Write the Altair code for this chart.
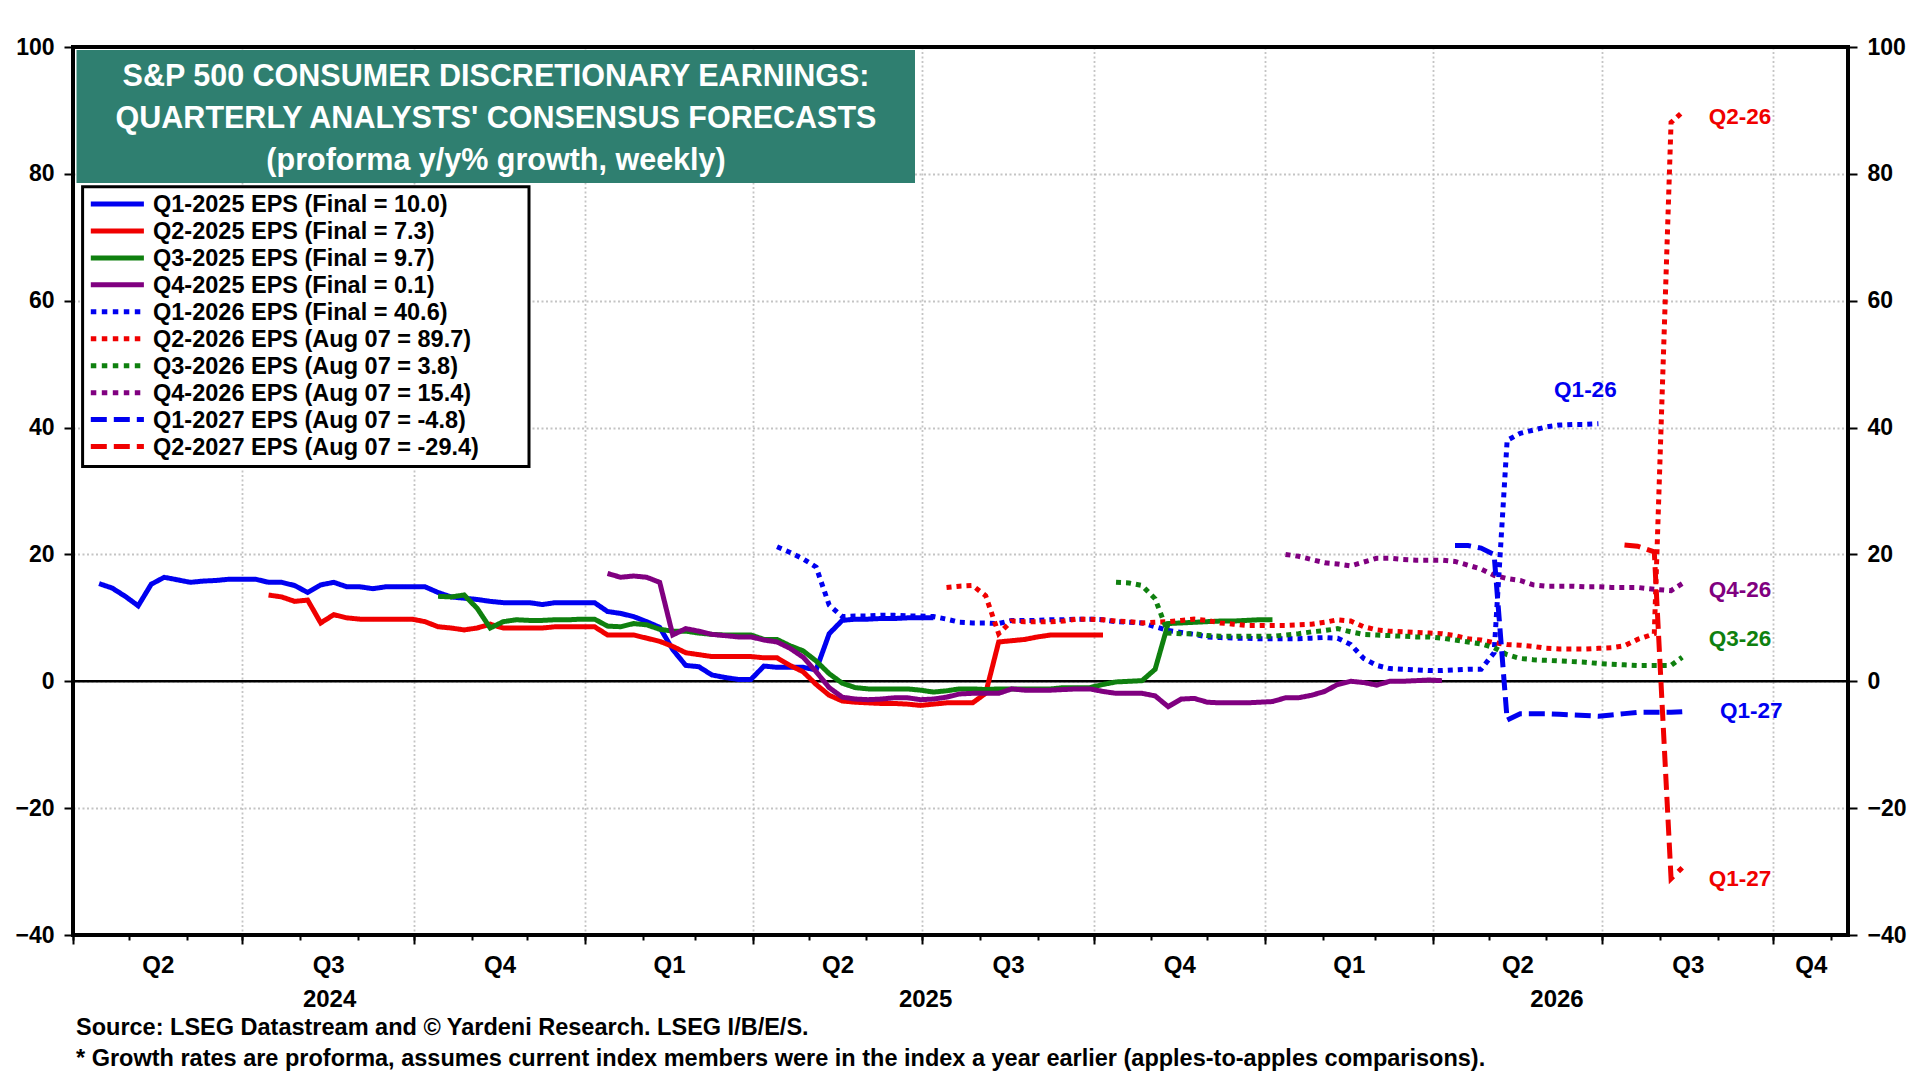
import altair as alt
import pandas as pd

# ---------------- data (weekly observations; last readings dated as drawn) ----------------
WEEK0 = pd.Timestamp("2024-04-08")          # week index k -> WEEK0 + 7k days
LATE_DATES = {120: "2026-07-29", 121: "2026-08-07", 122: "2026-08-13"}
DOMAIN_START = pd.Timestamp("2024-04-01")
DOMAIN_END = pd.Timestamp("2026-11-10")

SERIES = [
    "Q1-2025 EPS (Final = 10.0)",
    "Q2-2025 EPS (Final = 7.3)",
    "Q3-2025 EPS (Final = 9.7)",
    "Q4-2025 EPS (Final = 0.1)",
    "Q1-2026 EPS (Final = 40.6)",
    "Q2-2026 EPS (Aug 07 = 89.7)",
    "Q3-2026 EPS (Aug 07 = 3.8)",
    "Q4-2026 EPS (Aug 07 = 15.4)",
    "Q1-2027 EPS (Aug 07 = -4.8)",
    "Q2-2027 EPS (Aug 07 = -29.4)",
]
COLORS = ["#0000f0", "#f00000", "#0f800f", "#800080",
          "#0000f0", "#f00000", "#0f800f", "#800080",
          "#0000f0", "#f00000"]
DASHES = [[1, 0]] * 4 + [[5, 5]] * 4 + [[16, 7]] * 2
LEGEND_DASHES = [[1, 0]] * 4 + [[5.5, 5.5]] * 4 + [[16, 7]] * 2
START_WEEK = [1, 14, 27, 40, 53, 66, 79, 92, 105, 118]

q1_2025 = [15.4, 14.7, 13.4, 11.9, 15.3, 16.4, 16.0, 15.6, 15.8, 15.9,
           16.1, 16.1, 16.1, 15.6, 15.6, 15.1, 14.0, 15.2, 15.6, 14.9,
           14.9, 14.6, 14.9, 14.9, 14.9, 14.9, 14.0, 13.3, 13.1, 12.9,
           12.6, 12.4, 12.4, 12.4, 12.1, 12.4, 12.4, 12.4, 12.4, 11.0,
           10.7, 10.2, 9.4, 8.5, 5.0, 2.5, 2.3, 1.0, 0.6, 0.3,
           0.3, 2.4, 2.2, 2.2, 2.2, 1.8, 7.5, 9.6, 9.8, 9.8,
           9.9, 9.9, 10.0, 10.0, 10.0]
q2_2025 = [13.6, 13.3, 12.6, 12.8, 9.2, 10.5, 10.0, 9.8, 9.8, 9.8,
           9.8, 9.8, 9.4, 8.6, 8.4, 8.1, 8.4, 9.0, 8.4, 8.4,
           8.4, 8.4, 8.6, 8.6, 8.6, 8.6, 7.3, 7.3, 7.3, 6.8,
           6.3, 5.5, 4.5, 4.2, 3.9, 3.9, 3.9, 3.9, 3.7, 3.7,
           2.5, 1.5, -0.5, -2.2, -3.1, -3.3, -3.4, -3.5, -3.5, -3.6,
           -3.8, -3.6, -3.4, -3.4, -3.4, -1.9, 6.2, 6.4, 6.6, 7.0,
           7.3, 7.3, 7.3, 7.3, 7.3]
q3_2025 = [13.4, 13.3, 13.6, 11.5, 8.4, 9.4, 9.7, 9.6, 9.6, 9.7,
           9.7, 9.8, 9.8, 8.7, 8.6, 9.1, 8.9, 8.2, 7.9, 7.9,
           7.6, 7.4, 7.3, 7.3, 7.3, 6.6, 6.6, 5.6, 4.8, 3.2,
           1.2, -0.3, -1.0, -1.2, -1.2, -1.2, -1.2, -1.4, -1.7, -1.5,
           -1.2, -1.2, -1.3, -1.2, -1.2, -1.2, -1.2, -1.2, -1.0, -1.0,
           -1.0, -0.5, -0.1, 0.0, 0.1, 1.9, 9.1, 9.2, 9.3, 9.4,
           9.5, 9.5, 9.6, 9.7, 9.7]
q4_2025 = [17.0, 16.4, 16.6, 16.4, 15.6, 7.3, 8.3, 7.9, 7.4, 7.2,
           7.0, 7.0, 6.5, 6.2, 5.2, 3.8, 1.5, -1.0, -2.5, -2.8,
           -2.9, -2.8, -2.6, -2.6, -2.9, -2.8, -2.5, -2.0, -1.9, -1.9,
           -1.9, -1.2, -1.4, -1.4, -1.4, -1.3, -1.2, -1.2, -1.6, -1.9,
           -1.9, -1.9, -2.3, -4.0, -2.8, -2.7, -3.3, -3.4, -3.4, -3.4,
           -3.3, -3.2, -2.6, -2.6, -2.2, -1.6, -0.5, 0.0, -0.2, -0.6,
           0.0, 0.0, 0.1, 0.2, 0.1]
q1_2026 = [21.2, 20.3, 19.3, 18.0, 12.0, 10.2, 10.3, 10.3, 10.4, 10.4,
           10.3, 10.3, 10.2, 9.8, 9.3, 9.2, 9.2, 9.1, 9.6, 9.6,
           9.6, 9.7, 9.7, 9.8, 9.8, 9.7, 9.4, 9.3, 9.2, 8.6,
           8.0, 7.7, 7.4, 7.0, 6.9, 6.8, 6.8, 6.7, 6.7, 6.7,
           6.7, 6.8, 6.9, 6.8, 5.8, 3.6, 2.5, 2.0, 1.9, 1.8,
           1.7, 1.7, 1.8, 1.9, 1.9, 4.5, 38.0, 39.1, 39.6, 40.1,
           40.4, 40.5, 40.5, 40.6]
q2_2026 = [14.8, 15.0, 15.1, 13.5, 7.5, 9.5, 9.4, 9.4, 9.4, 9.5,
           9.8, 9.8, 9.7, 9.5, 9.4, 9.2, 9.3, 9.4, 9.6, 9.8,
           9.6, 9.2, 9.0, 8.8, 8.8, 8.8, 8.8, 8.9, 9.0, 9.3,
           9.7, 9.5, 8.6, 8.1, 7.9, 7.8, 7.7, 7.6, 7.5, 7.2,
           6.7, 6.5, 6.1, 5.8, 5.7, 5.5, 5.2, 5.1, 5.1, 5.1,
           5.2, 5.3, 5.6, 6.6, 7.5, 88.1, 89.7]
q3_2026 = [15.6, 15.5, 15.1, 13.0, 7.6, 7.5, 7.5, 7.2, 7.1, 7.1,
           7.1, 7.1, 7.1, 7.3, 7.5, 7.8, 8.0, 8.3, 7.8, 7.4,
           7.3, 7.2, 7.1, 7.0, 7.0, 6.8, 6.5, 6.2, 5.9, 5.3,
           4.2, 3.6, 3.4, 3.3, 3.2, 3.1, 3.0, 2.8, 2.7, 2.6,
           2.5, 2.5, 2.5, 3.8]
q4_2026 = [20.0, 19.7, 19.2, 18.7, 18.5, 18.2, 18.8, 19.4, 19.4, 19.2,
           19.1, 19.1, 19.1, 18.9, 18.3, 17.7, 16.7, 16.2, 15.9, 15.2,
           15.0, 15.0, 15.0, 14.9, 14.9, 14.8, 14.8, 14.8, 14.5, 14.3,
           15.4]
q1_2027 = [21.4, 21.4, 21.0, 20.0, -6.1, -5.1, -5.1, -5.1, -5.2, -5.3,
           -5.4, -5.5, -5.3, -5.1, -4.9, -4.9, -4.9, -4.8]
q2_2027 = [21.5, 21.3, 20.4, -31.1, -29.4]
VALUES = [q1_2025, q2_2025, q3_2025, q4_2025, q1_2026,
          q2_2026, q3_2026, q4_2026, q1_2027, q2_2027]

END_LABELS = ["Q1-26", "Q2-26", "Q4-26", "Q3-26", "Q1-27", "Q1-27"]
END_LABEL_SERIES = [4, 5, 7, 6, 8, 9]
END_LABEL_DATE = ["2026-06-22", "2026-09-13", "2026-09-13",
                  "2026-09-13", "2026-09-19", "2026-09-13"]
END_LABEL_VALUE = [45.9, 88.9, 14.4, 6.7, -4.7, -31.1]

Y_TICKS = [-40, -20, 0, 20, 40, 60, 80, 100]
TITLE_LINES = ["S&P 500 CONSUMER DISCRETIONARY EARNINGS:",
               "QUARTERLY ANALYSTS' CONSENSUS FORECASTS",
               "(proforma y/y% growth, weekly)"]
FOOTNOTES = ["Source: LSEG Datastream and \u00a9 Yardeni Research. LSEG I/B/E/S.",
             "* Growth rates are proforma, assumes current index members were in the index a year earlier (apples-to-apples comparisons)."]

# ---------------- tables ----------------
rows = []
for name, start, vals in zip(SERIES, START_WEEK, VALUES):
    for i, v in enumerate(vals):
        k = start + i
        if k in LATE_DATES:
            d = pd.Timestamp(LATE_DATES[k])
        else:
            d = WEEK0 + pd.Timedelta(days=7 * k)
        rows.append({"series": name, "date": d, "value": v})
df = pd.DataFrame(rows)

end_df = pd.DataFrame({
    "label": END_LABELS,
    "series": [SERIES[i] for i in END_LABEL_SERIES],
    "date": pd.to_datetime(END_LABEL_DATE),
    "value": END_LABEL_VALUE,
})

q_starts = list(pd.date_range(DOMAIN_START, "2026-10-01", freq="QS"))
months = list(pd.date_range(DOMAIN_START, DOMAIN_END, freq="MS"))
q_mids = []
for s in q_starts:
    e = min(s + pd.offsets.QuarterBegin(startingMonth=1), DOMAIN_END)
    q_mids.append(s + (e - s) / 2)
y_starts = [DOMAIN_START, pd.Timestamp("2025-01-01"), pd.Timestamp("2026-01-01")]
y_mids = []
for s in y_starts:
    e = min(pd.Timestamp(year=s.year + 1, month=1, day=1), DOMAIN_END)
    y_mids.append(s + (e - s) / 2)


def dt(ts):
    return alt.DateTime(year=ts.year, month=ts.month, date=ts.day,
                        hours=ts.hour, minutes=ts.minute)


# ---------------- styling ----------------
FONT = "Liberation Sans"
W, H = 1775, 888
TEAL = "#2f7f70"

x_scale = alt.Scale(domain=[dt(DOMAIN_START), dt(DOMAIN_END)])
y_scale = alt.Scale(domain=[-40, 100], nice=False, zero=False)
color_scale = alt.Scale(domain=SERIES, range=COLORS)
dash_scale = alt.Scale(domain=SERIES, range=DASHES)

LBL = dict(labelFont=FONT, labelFontWeight="bold", labelColor="black")
GRID = dict(gridColor="#c4c4c4", gridDash=[2, 2.5], gridWidth=1.8)

x_major = alt.Axis(orient="bottom", values=[dt(s) for s in q_starts], labels=False,
                   ticks=True, tickSize=9, tickWidth=2, tickColor="black",
                   domain=False, grid=True, title=None, **GRID)
x_minor = alt.Axis(orient="bottom", values=[dt(m) for m in months], labels=False,
                   ticks=True, tickSize=5, tickWidth=2, tickColor="black",
                   domain=False, grid=False, title=None)
x_quarter = alt.Axis(orient="bottom", values=[dt(m) for m in q_mids], ticks=False,
                     domain=False, grid=False, labelPadding=18, labelFontSize=24,
                     labelExpr="'Q' + (floor(month(datum.value) / 3) + 1)",
                     labelFlush=False, labelOverlap=False, labelBound=False,
                     title=None, **LBL)
x_year = alt.Axis(orient="bottom", values=[dt(m) for m in y_mids], ticks=False,
                  domain=False, grid=False, labelPadding=52, labelFontSize=24,
                  format="%Y", labelFlush=False, labelOverlap=False,
                  labelBound=False, title=None, **LBL)
y_left = alt.Axis(orient="left", values=Y_TICKS, ticks=True, tickSize=9, tickWidth=2,
                  tickColor="black", labelPadding=10, labelFontSize=23,
                  domain=False, grid=True, title=None, **LBL, **GRID)
y_right = alt.Axis(orient="right", values=Y_TICKS, ticks=True, tickSize=9, tickWidth=2,
                   tickColor="black", labelPadding=10, labelFontSize=23,
                   domain=False, grid=False, title=None, **LBL)

one = pd.DataFrame({"k": [0]})
layers = []

# axis hosts (invisible)
layers.append(alt.Chart(pd.DataFrame({"date": months})).mark_point(opacity=0).encode(
    x=alt.X("date:T", scale=x_scale, axis=x_minor)))
layers.append(alt.Chart(pd.DataFrame({"date": q_mids})).mark_point(opacity=0).encode(
    x=alt.X("date:T", scale=x_scale, axis=x_quarter)))
layers.append(alt.Chart(pd.DataFrame({"date": y_mids})).mark_point(opacity=0).encode(
    x=alt.X("date:T", scale=x_scale, axis=x_year)))

# zero line (also hosts the right axis)
layers.append(alt.Chart(pd.DataFrame({"v": [0]})).mark_rule(color="black", strokeWidth=2.5).encode(
    y=alt.Y("v:Q", scale=y_scale, axis=y_right)))

# data lines
layers.append(alt.Chart(df).mark_line(strokeWidth=5).encode(
    x=alt.X("date:T", scale=x_scale, axis=x_major),
    y=alt.Y("value:Q", scale=y_scale, axis=y_left),
    color=alt.Color("series:N", scale=color_scale, legend=None),
    strokeDash=alt.StrokeDash("series:N", scale=dash_scale, legend=None),
))

# series end labels
layers.append(alt.Chart(end_df).mark_text(font=FONT, fontSize=22.5, fontWeight="bold",
                                          align="center", baseline="middle").encode(
    x=alt.X("date:T", scale=x_scale, axis=None),
    y=alt.Y("value:Q", scale=y_scale, axis=None),
    text="label:N",
    color=alt.Color("series:N", scale=color_scale, legend=None),
))

# title box
layers.append(alt.Chart(one).mark_rect(color=TEAL).encode(
    x=alt.value(3.5), x2=alt.value(842), y=alt.value(3), y2=alt.value(136)))
for line, yy in zip(TITLE_LINES, [29.8, 71.8, 114.3]):
    layers.append(alt.Chart(one).mark_text(font=FONT, fontSize=30.5, fontWeight="bold",
                                           color="white", align="center",
                                           baseline="middle").encode(
        x=alt.value(423), y=alt.value(yy), text=alt.value(line)))

# legend
layers.append(alt.Chart(one).mark_rect(fill="white", stroke="black", strokeWidth=3).encode(
    x=alt.value(9.6), x2=alt.value(456), y=alt.value(139.7), y2=alt.value(419.5)))
for i, name in enumerate(SERIES):
    yy = 157 + 26.95 * i
    layers.append(alt.Chart(one).mark_rule(color=COLORS[i], strokeWidth=5,
                                           strokeDash=LEGEND_DASHES[i],
                                           strokeCap="butt").encode(
        x=alt.value(17.8), x2=alt.value(70.9), y=alt.value(yy)))
    layers.append(alt.Chart(one).mark_text(font=FONT, fontSize=23.5, fontWeight="bold",
                                           color="black", align="left",
                                           baseline="middle").encode(
        x=alt.value(80), y=alt.value(yy + 1.4), text=alt.value(name)))

# footnotes
for line, yy in zip(FOOTNOTES, [981.4, 1012.0]):
    layers.append(alt.Chart(one).mark_text(font=FONT, fontSize=23.5, fontWeight="bold",
                                           color="black", align="left",
                                           baseline="middle").encode(
        x=alt.value(3), y=alt.value(yy), text=alt.value(line)))

# plot frame on top
layers.append(alt.Chart(one).mark_rect(fillOpacity=0, stroke="black", strokeWidth=4).encode(
    x=alt.value(0), x2=alt.value(W), y=alt.value(0), y2=alt.value(H)))

chart = alt.layer(*layers).resolve_axis(
    x="independent", y="independent"
).properties(
    width=W, height=H,
    padding={"left": 65, "top": 39, "right": 64, "bottom": 137},
    autosize=alt.AutoSizeParams(type="none"),
    background="white",
).configure(font=FONT).configure_view(strokeWidth=0)

chart.save("out.html", embed_options={"renderer": "svg", "actions": False})
